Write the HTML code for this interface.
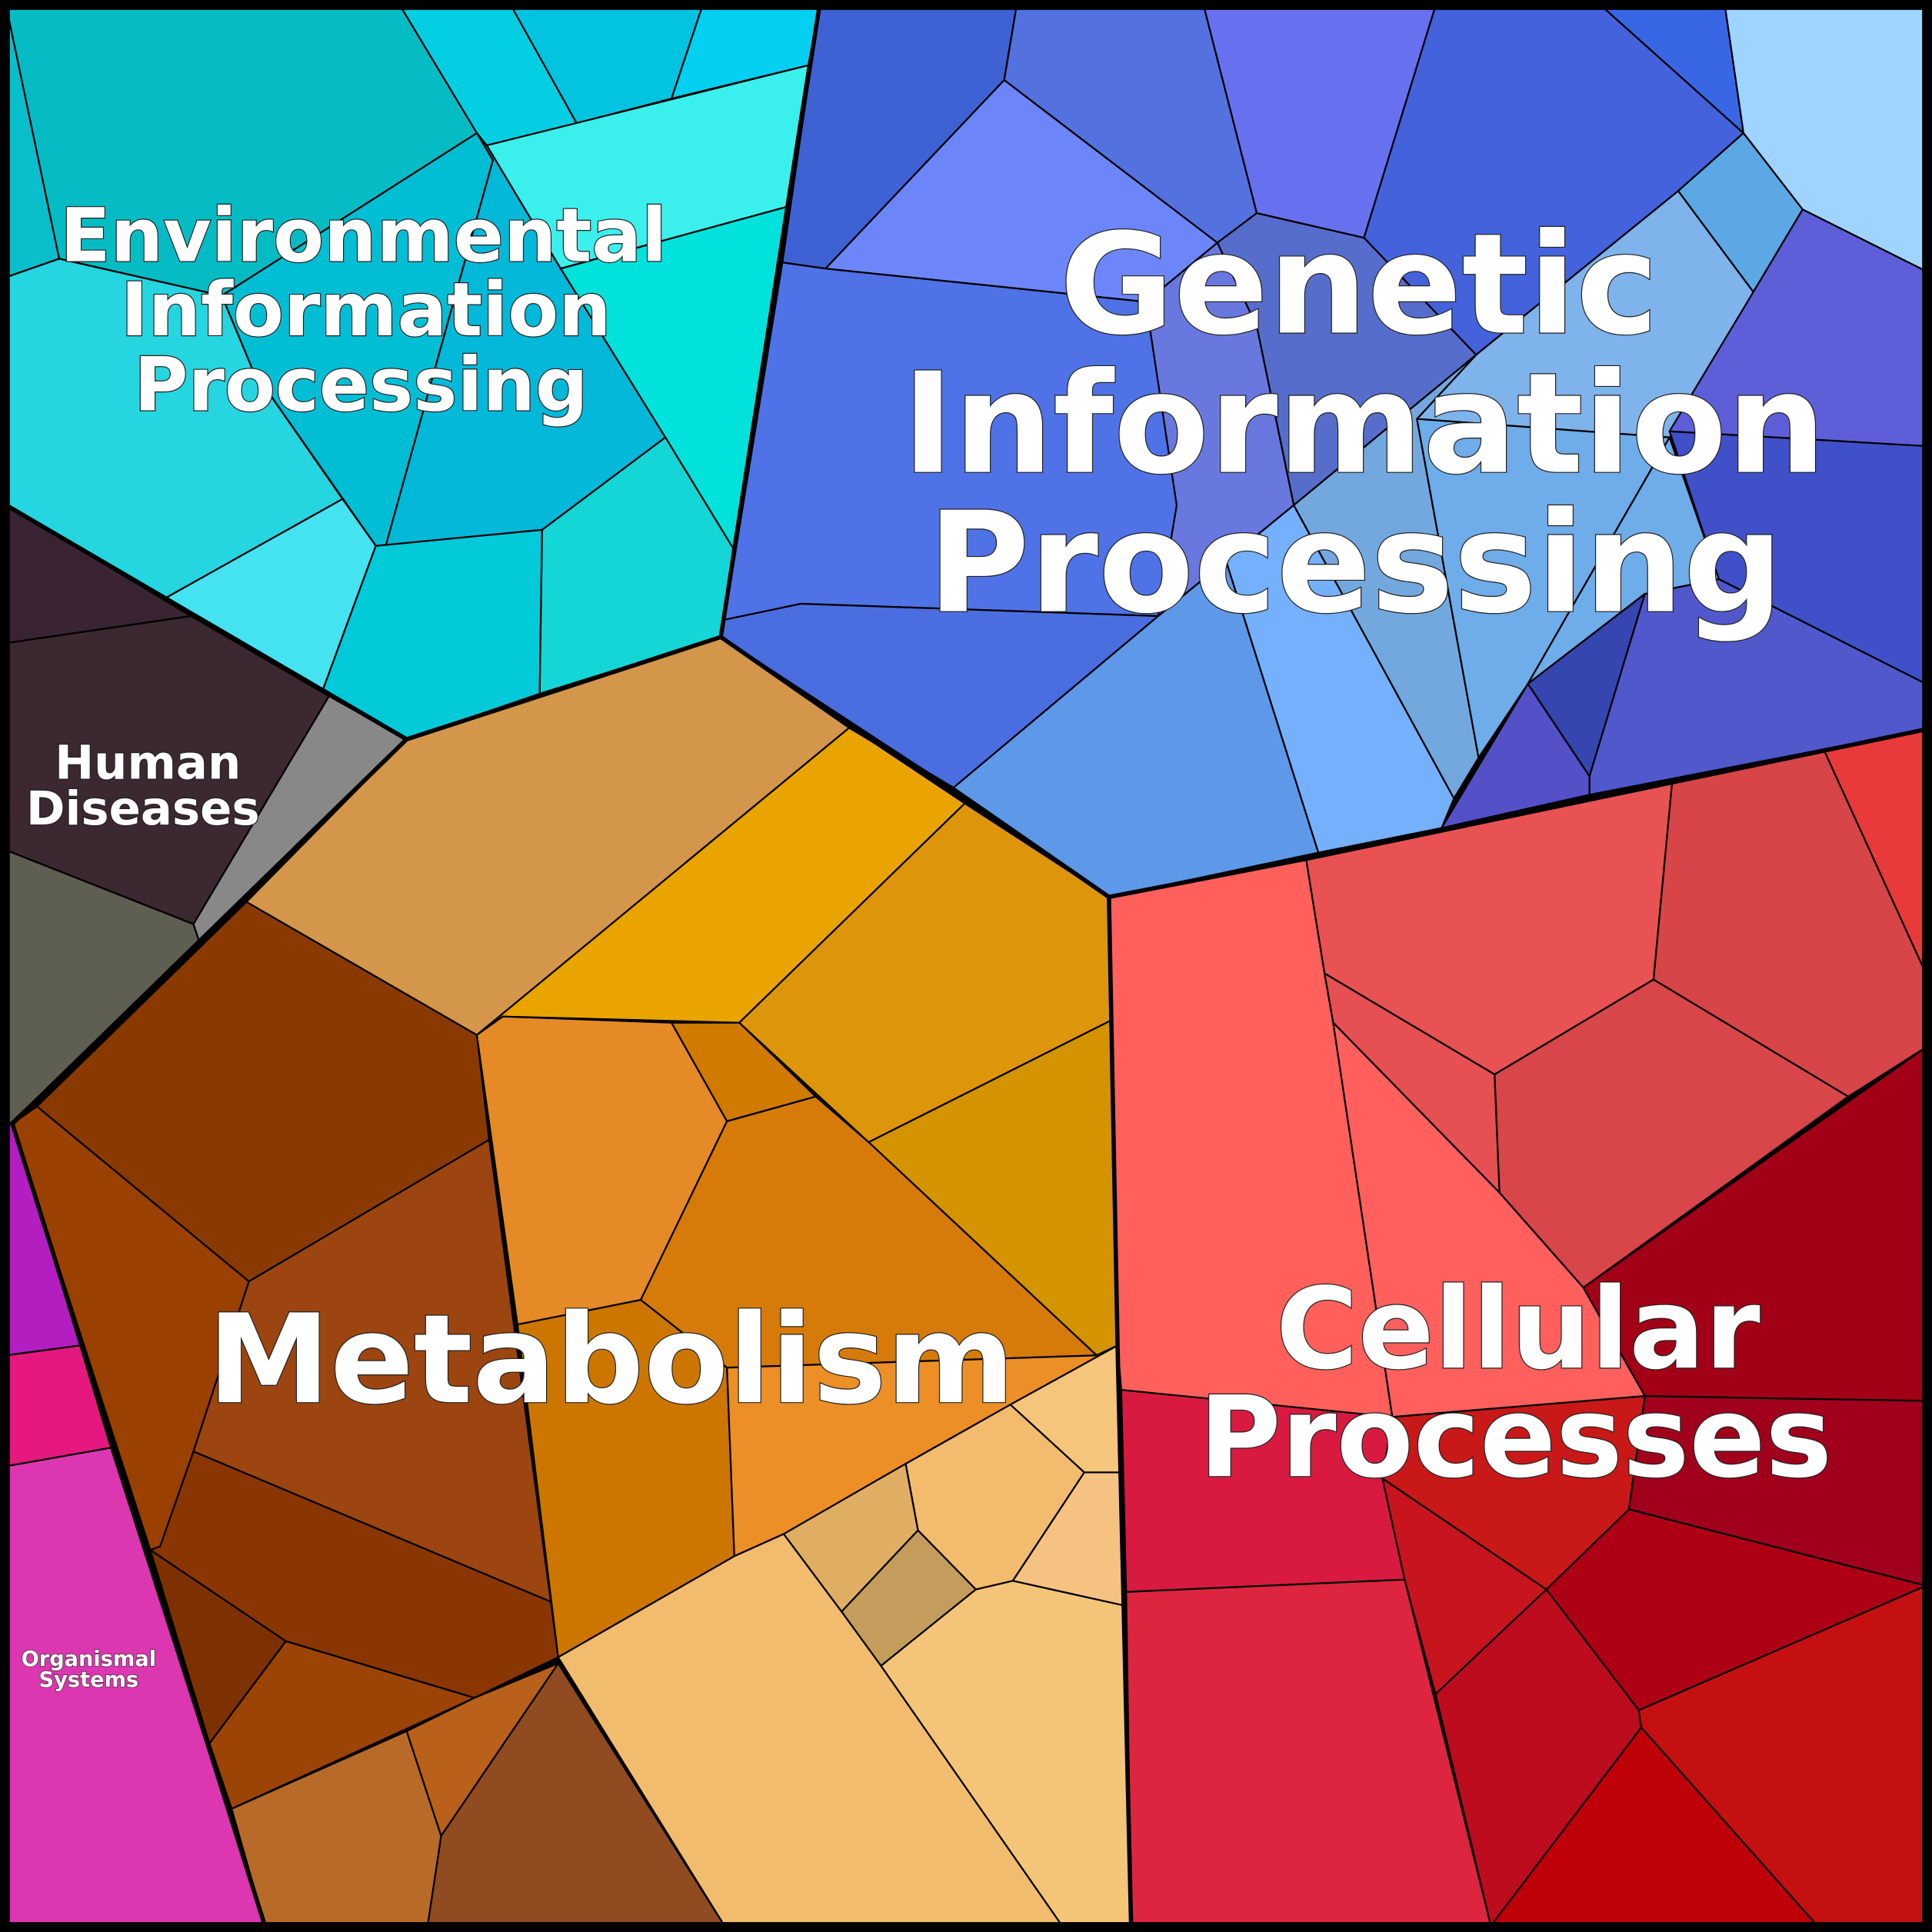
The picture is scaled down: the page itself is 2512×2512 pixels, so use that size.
<!DOCTYPE html>
<html><head><meta charset="utf-8"><style>html,body{margin:0;padding:0;background:#000}svg{display:block}</style></head>
<body>
<svg width="2512" height="2512" viewBox="0 0 1568 1568" xmlns="http://www.w3.org/2000/svg">
<g stroke="#000" stroke-width="1.4" stroke-linejoin="round">
<!-- Environmental -->
<polygon fill="#05BCC4" points="5,5 325,5 387,108 180,240 48,210"/>
<polygon fill="#0ABFCC" points="5,5 48,210 5,225"/>
<polygon fill="#04CFE2" points="325,5 415,5 468,100 395,118 387,108"/>
<polygon fill="#03C4E0" points="415,5 570,5 545,80 468,100"/>
<polygon fill="#03CFF0" points="570,5 665,5 656,53 545,80"/>
<polygon fill="#3BF0EC" points="395,118 656,53 638,168 455,218"/>
<polygon fill="#02E2DC" points="455,218 638,168 595,445 540,355"/>
<polygon fill="#03B8D8" points="387,108 395,118 455,218 540,355 440,430 313,443 400,130"/>
<polygon fill="#02BED4" points="387,108 400,130 313,443 305,443 205,300 180,240"/>
<polygon fill="#25D5E0" points="5,225 48,210 180,240 205,300 278,405 135,485 5,410"/>
<polygon fill="#45E3F2" points="135,485 278,405 305,443 262,560"/>
<polygon fill="#03CAD9" points="305,443 440,430 438,563 330,600 262,560"/>
<polygon fill="#15D6D6" points="440,430 540,355 595,445 585,517 438,563"/>
<!-- Human diseases -->
<polygon fill="#3A2434" points="5,410 155,500 5,522"/>
<polygon fill="#3C2830" points="5,522 155,500 267,565 157,750 5,690"/>
<polygon fill="#5E5E52" points="5,690 157,750 162,765 5,915"/>
<polygon fill="#888888" points="157,750 267,565 330,600 162,765"/>
<!-- Organismal -->
<polygon fill="#B31EC0" points="5,915 10,912 65,1092 5,1100"/>
<polygon fill="#E5187F" points="5,1100 65,1092 90,1175 5,1190"/>
<polygon fill="#DC36B0" points="5,1190 90,1175 215,1563 5,1563"/>
<!-- Metabolism -->
<polygon fill="#D4964A" points="330,600 585,517 690,590 387,840 200,732"/>
<polygon fill="#EAA400" points="690,590 783,652 600,830 408,825 387,840"/>
<polygon fill="#DD960C" points="783,652 900,728 902,828 705,927 600,830"/>
<polygon fill="#D49300" points="705,927 902,828 907,1092 890,1100"/>
<polygon fill="#8A3A00" points="200,732 387,840 397,925 202,1040 30,898"/>
<polygon fill="#9A4000" points="10,912 30,898 202,1040 157,1178 130,1255 122,1258"/>
<polygon fill="#9C4510" points="202,1040 397,925 447,1300 157,1178"/>
<polygon fill="#8A3603" points="157,1178 447,1300 453,1345 385,1378 232,1332 122,1258 130,1255"/>
<polygon fill="#7E3100" points="122,1258 232,1332 170,1415"/>
<polygon fill="#9C4306" points="232,1332 385,1378 188,1468 170,1415"/>
<polygon fill="#E58A26" points="387,840 408,825 545,830 590,910 520,1055 420,1075"/>
<polygon fill="#D07A00" points="545,830 600,830 662,890 590,910"/>
<polygon fill="#D67A0A" points="590,910 662,890 705,927 890,1100 590,1110 520,1055"/>
<polygon fill="#CC7600" points="420,1075 520,1055 590,1110 596,1263 453,1345"/>
<polygon fill="#EC8F26" points="590,1110 890,1100 907,1092 820,1140 735,1188 636,1245 596,1263"/>
<polygon fill="#F5C57B" points="820,1140 907,1092 910,1195 880,1195"/>
<polygon fill="#F2BB6E" points="735,1188 820,1140 880,1195 822,1283 792,1290 745,1242"/>
<polygon fill="#F6C282" points="880,1195 910,1195 912,1303 822,1283"/>
<polygon fill="#E0AE62" points="636,1245 735,1188 745,1242 683,1308"/>
<polygon fill="#C49D5C" points="683,1308 745,1242 792,1290 715,1352"/>
<polygon fill="#F4C578" points="792,1290 822,1283 912,1303 918,1563 862,1563 715,1352"/>
<polygon fill="#F2BC6E" points="453,1345 596,1263 636,1245 683,1308 715,1352 862,1563 588,1563"/>
<polygon fill="#914B20" points="453,1350 588,1563 347,1563 358,1490"/>
<polygon fill="#B9601A" points="385,1378 453,1350 358,1490 330,1405"/>
<polygon fill="#B86A28" points="188,1468 330,1405 358,1490 347,1563 215,1563"/>
<!-- Genetic -->
<polygon fill="#3E62D4" points="665,5 825,5 815,65 670,218 635,213"/>
<polygon fill="#5471E0" points="825,5 977,5 1020,173 988,197 815,65"/>
<polygon fill="#6C86FA" points="815,65 988,197 930,245 670,218"/>
<polygon fill="#6771F0" points="977,5 1165,5 1107,193 1020,173"/>
<polygon fill="#4362DC" points="1165,5 1300,5 1415,108 1362,155 1198,288 1107,193"/>
<polygon fill="#3866E4" points="1300,5 1400,5 1415,108"/>
<polygon fill="#9ED4FF" points="1400,5 1563,5 1563,220 1463,170 1415,108"/>
<polygon fill="#5CA8E4" points="1362,155 1415,108 1463,170 1423,237"/>
<polygon fill="#7EB3EB" points="1198,288 1362,155 1423,237 1355,355 1150,340"/>
<polygon fill="#566DCB" points="1020,173 1107,193 1198,288 1050,410 1020,265 988,197"/>
<polygon fill="#6878DE" points="930,245 988,197 1020,265 1050,410 995,455 940,500 920,280"/>
<polygon fill="#4F72E6" points="635,213 670,218 930,245 955,410 940,500 650,490 588,503"/>
<polygon fill="#4A6EE0" points="588,503 650,490 940,500 773,640 585,517"/>
<polygon fill="#5E98E8" points="940,500 995,455 1070,692 900,728 773,640"/>
<polygon fill="#75B0FC" points="995,455 1050,410 1180,648 1170,672 1070,692"/>
<polygon fill="#72A8DE" points="1050,410 1198,288 1150,340 1200,615 1180,648"/>
<polygon fill="#6EACEA" points="1150,340 1355,355 1240,555 1200,615"/>
<polygon fill="#4050C8" points="1355,350 1563,362 1563,555 1395,470"/>
<polygon fill="#5E5FD8" points="1423,237 1463,170 1563,220 1563,362 1355,350"/>
<polygon fill="#6EACEA" points="1240,555 1355,355 1395,470 1335,482"/>
<polygon fill="#3546B0" points="1240,555 1335,482 1290,630"/>
<polygon fill="#5058CC" points="1290,630 1335,482 1395,470 1563,555 1563,592 1290,645"/>
<polygon fill="#5450C8" points="1170,672 1240,555 1290,630 1290,645"/>
<!-- Cellular -->
<polygon fill="#FF605C" points="900,728 1060,697 1075,790 1082,830 1130,1150 975,1140 910,1128 907,1092"/>
<polygon fill="#E85252" points="1060,697 1357,636 1342,795 1213,872 1075,790"/>
<polygon fill="#D84548" points="1357,636 1480,608 1563,790 1563,850 1500,890 1342,795"/>
<polygon fill="#E83A3A" points="1480,608 1563,592 1563,790"/>
<polygon fill="#E65052" points="1075,790 1213,872 1217,968 1082,830"/>
<polygon fill="#D84649" points="1213,872 1342,795 1500,890 1285,1045 1217,968"/>
<polygon fill="#FF605E" points="1082,830 1217,968 1285,1045 1335,1133 1130,1150"/>
<polygon fill="#A20016" points="1285,1045 1563,850 1563,1137 1335,1133"/>
<polygon fill="#C91818" points="1130,1150 1335,1133 1322,1225 1255,1290 1122,1200"/>
<polygon fill="#A0001C" points="1335,1133 1563,1137 1563,1287 1322,1225"/>
<polygon fill="#D81A40" points="910,1128 1130,1150 1122,1200 1140,1282 914,1292"/>
<polygon fill="#DD2540" points="914,1292 1140,1282 1210,1563 918,1563"/>
<polygon fill="#C8141E" points="1122,1200 1255,1290 1165,1375 1140,1282"/>
<polygon fill="#AE0015" points="1255,1290 1322,1225 1563,1287 1330,1388"/>
<polygon fill="#BC0C1E" points="1165,1375 1255,1290 1330,1388 1332,1402 1210,1563"/>
<polygon fill="#BE0008" points="1332,1402 1210,1563 1475,1563"/>
<polygon fill="#C41010" points="1330,1388 1563,1287 1563,1563 1475,1563 1332,1402"/>
</g>
<g fill="none" stroke="#000" stroke-width="3.5" stroke-linejoin="round">
<polyline points="665,5 585,517 330,600 5,410"/>
<polyline points="585,517 690,590 773,640 900,728 1060,697 1563,592"/>
<polyline points="330,600 10,912 215,1563"/>
<polyline points="900,728 907,1092 918,1563"/>
<rect x="4" y="4" width="1560" height="1560" stroke-width="8"/>
</g>
<g font-family="DejaVu Sans, Liberation Sans, sans-serif" font-weight="bold" fill="#fff" stroke="#222" stroke-width="1.5" paint-order="stroke" text-anchor="middle">
<text font-size="60" x="295" y="212">Environmental</text>
<text font-size="60" x="297" y="272">Information</text>
<text font-size="60" x="293" y="333">Processing</text>
<text font-size="113" x="1103" y="270">Genetic</text>
<text font-size="113" x="1107" y="383">Information</text>
<text font-size="113" x="1100" y="496">Processing</text>
<text font-size="38" x="120" y="632">Human</text>
<text font-size="38" x="116" y="669">Diseases</text>
<text font-size="100" x="496" y="1138">Metabolism</text>
<text font-size="91" x="1232" y="1110">Cellular</text>
<text font-size="91" x="1230" y="1198">Processes</text>
<text font-size="17" x="72" y="1352" stroke-width="0.8">Organismal</text>
<text font-size="17" x="72" y="1369" stroke-width="0.8">Systems</text>
</g>
</svg>
</body></html>
